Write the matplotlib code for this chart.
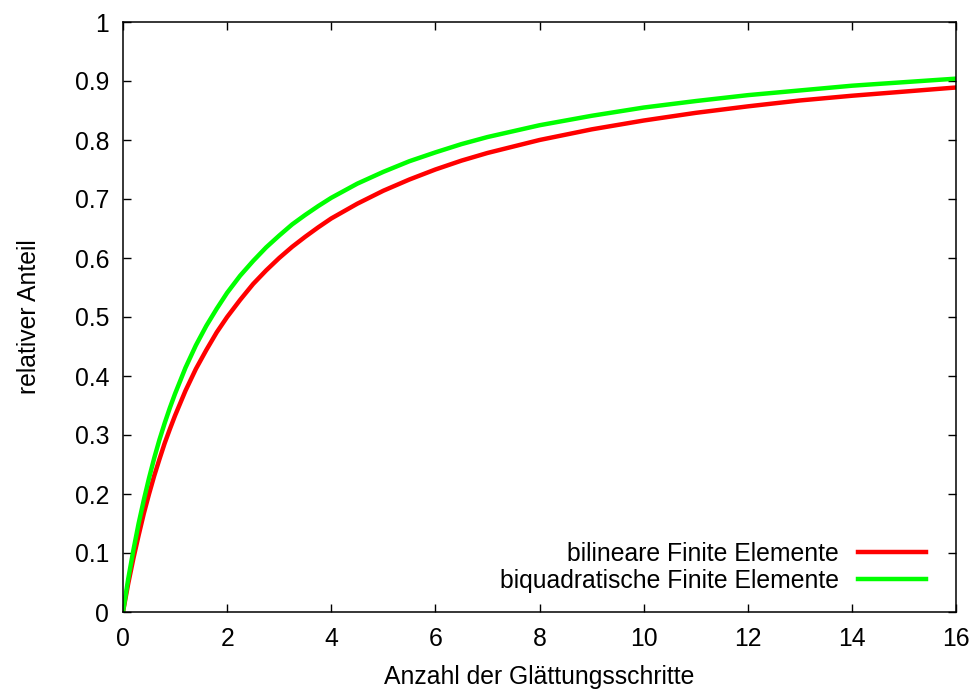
import matplotlib
matplotlib.use("Agg")
import matplotlib.pyplot as plt

plt.rcParams['font.family'] = ['Liberation Sans', 'DejaVu Sans']

x_vals = [0, 0.1, 0.2, 0.3, 0.4, 0.5, 0.6, 0.7, 0.8, 0.9, 1.0, 1.2, 1.4, 1.6, 1.8,
          2.0, 2.25, 2.5, 2.75, 3.0, 3.25, 3.5, 3.75, 4.0, 4.5, 5.0, 5.5, 6.0, 6.5,
          7.0, 7.5, 8.0, 9, 10, 11, 12, 13, 14, 15, 16]
bilinear = [0, 0.048, 0.091, 0.130, 0.167, 0.200, 0.231, 0.259, 0.286, 0.310, 0.333,
            0.375, 0.412, 0.444, 0.474, 0.500, 0.529, 0.556, 0.579, 0.600, 0.619,
            0.636, 0.652, 0.667, 0.692, 0.714, 0.733, 0.750, 0.765, 0.778, 0.789,
            0.800, 0.818, 0.833, 0.846, 0.857, 0.867, 0.875, 0.882, 0.889]
biquadratic = [0, 0.056, 0.105, 0.150, 0.190, 0.227, 0.261, 0.292, 0.320, 0.346, 0.370,
               0.414, 0.452, 0.485, 0.514, 0.541, 0.570, 0.595, 0.618, 0.638, 0.657,
               0.673, 0.688, 0.702, 0.726, 0.746, 0.764, 0.779, 0.793, 0.805, 0.815,
               0.825, 0.841, 0.855, 0.866, 0.876, 0.884, 0.892, 0.898, 0.904]

labels = ["bilineare Finite Elemente", "biquadratische Finite Elemente"]
xticks = [0, 2, 4, 6, 8, 10, 12, 14, 16]
yticks = [0, 0.1, 0.2, 0.3, 0.4, 0.5, 0.6, 0.7, 0.8, 0.9, 1]
ytick_labels = ["0", "0.1", "0.2", "0.3", "0.4", "0.5", "0.6", "0.7", "0.8", "0.9", "1"]

fs = 17.8
fig = plt.figure(figsize=(9.74, 6.89), dpi=100)
ax = fig.add_axes([123/974, 77/689, (956-123)/974, (612-22)/689])

ax.plot(x_vals, bilinear, color='#ff0000', lw=3.2, label=labels[0],
        solid_joinstyle='round')
ax.plot(x_vals, biquadratic, color='#00ff00', lw=3.2, label=labels[1],
        solid_joinstyle='round')

ax.set_xlim(0, 16)
ax.set_ylim(0, 1)
ax.set_xticks(xticks)
ax.set_yticks(yticks)
ax.set_yticklabels(ytick_labels)
ax.tick_params(direction='in', length=6, width=1, top=True, right=True,
               labelsize=fs, color='black')
ax.tick_params(axis='y', pad=10)
ax.tick_params(axis='x', pad=11)
for s in ax.spines.values():
    s.set_linewidth(1.1)

ax.set_xlabel("Anzahl der Glättungsschritte", fontsize=fs, labelpad=10)
ax.set_ylabel("relativer Anteil", fontsize=fs, labelpad=24)

leg = ax.legend(loc='lower right', bbox_to_anchor=(1.005, -0.026), frameon=False,
                markerfirst=False, fontsize=fs,
                handlelength=2.75, handletextpad=0.75, labelspacing=0.12,
                borderaxespad=1.0)
for t in leg.get_texts():
    t.set_ha('right')

fig.savefig("out.png", dpi=100)
